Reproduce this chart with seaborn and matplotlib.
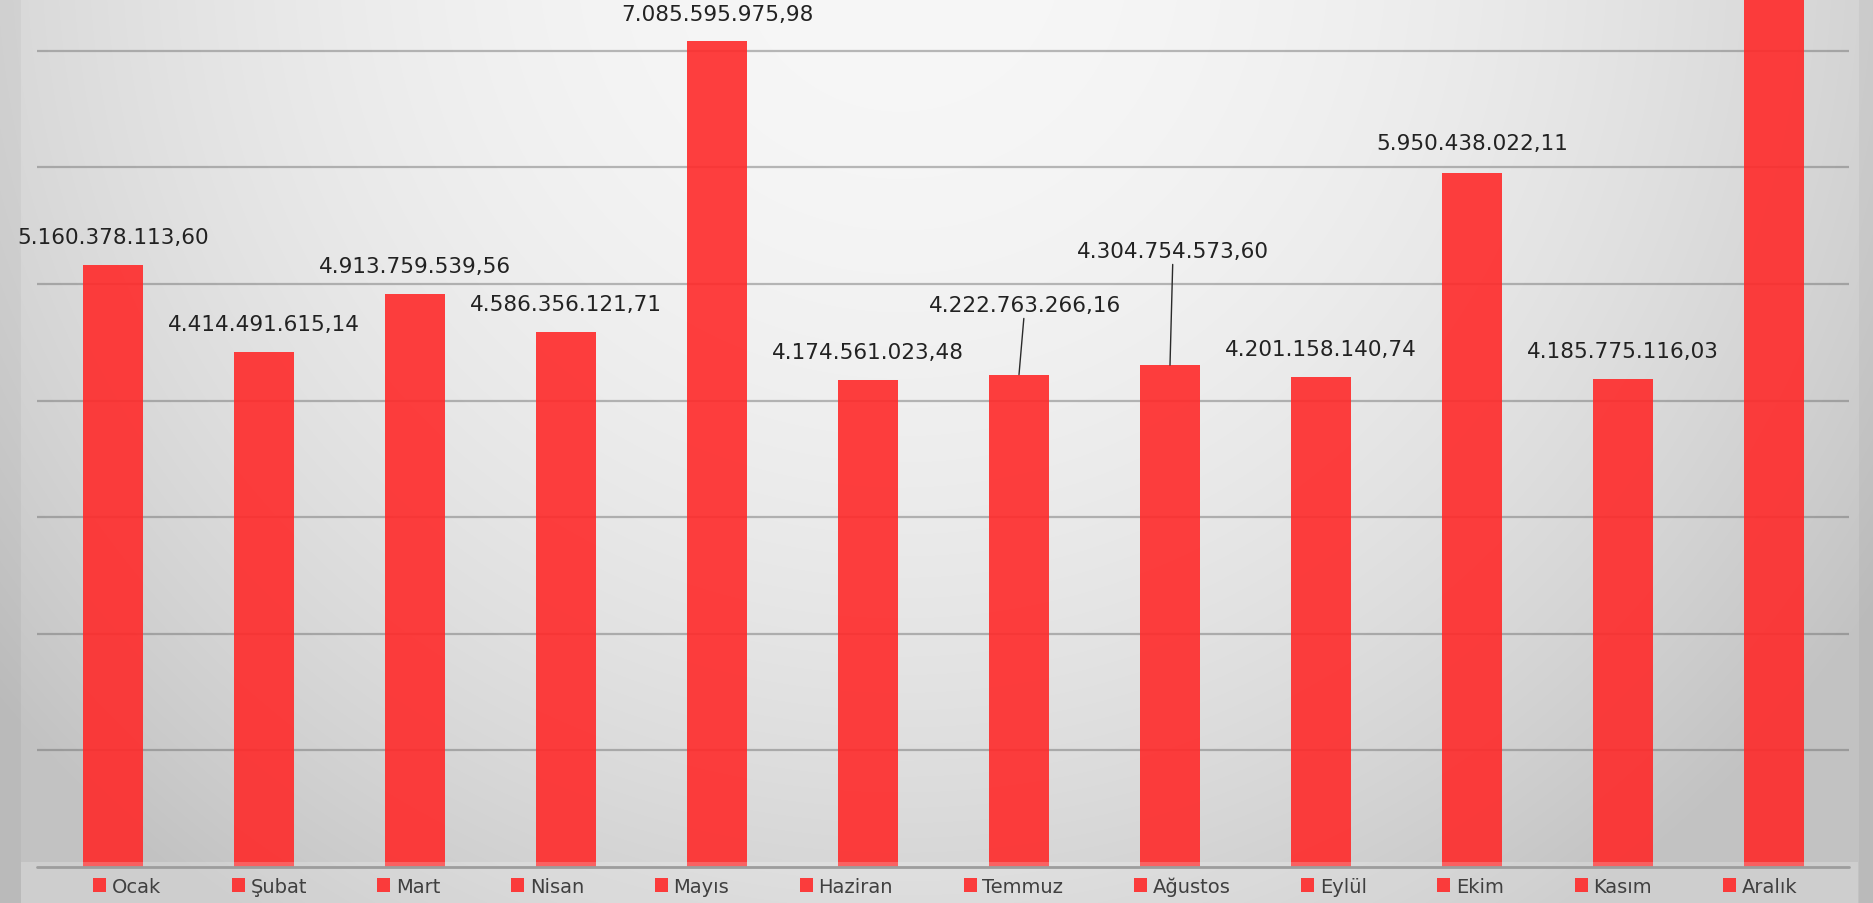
import numpy as np
import pandas as pd
import matplotlib
matplotlib.use("Agg")
import matplotlib.pyplot as plt
import seaborn as sns
from matplotlib.patches import Patch, Rectangle

# ---------------- data ----------------
months = ["Ocak", "Şubat", "Mart", "Nisan", "Mayıs", "Haziran",
          "Temmuz", "Ağustos", "Eylül", "Ekim", "Kasım", "Aralık"]
values = [5160378113.60, 4414491615.14, 4913759539.56, 4586356121.71,
          7085595975.98, 4174561023.48, 4222763266.16, 4304754573.60,
          4201158140.74, 5950438022.11, 4185775116.03, 8100000000.00]
grid_values = [1e9, 2e9, 3e9, 4e9, 5e9, 6e9, 7e9]

# label placement (offset in points from bar top) and leader lines
label_dx = [0, 0, 0, 0, 0, 0, 4.3, 2.2, 0, 0, 0, 0]
label_dy = [20.2, 20.2, 20.2, 20.2, 19.0, 20.2, 50.0, 82.0, 20.2, 21.5, 20.2, 20.2]
leaders = [False, False, False, False, False, False, True, True, False, False, False, False]

W, H, DPI = 1874, 904, 100
bar_color = "#ff2a2a"

sns.set_theme(style="white")
plt.rcParams["font.family"] = ["DejaVu Sans"]

fig = plt.figure(figsize=(W / DPI, H / DPI), dpi=DPI)

# background gradient
bg_ax = fig.add_axes([0, 0, 1, 1], zorder=0)
yy, xx = np.mgrid[0:H, 0:W].astype(float)
d2 = (xx - 900) ** 2 + (yy + 50) ** 2
g = np.clip(247 - 3.8e-5 * d2, 194, 247)
outside = (xx < 21) | (xx > 1858)
g[outside] -= 8
img = np.dstack([g, g, g]) / 255.0
bg_ax.imshow(img, aspect="auto", interpolation="bilinear")
bg_ax.set_axis_off()

# main axes
ax = fig.add_axes([37.5 / W, (H - 868) / H, 1812 / W, 868 / H], zorder=1)
ax.patch.set_alpha(0)

df = pd.DataFrame({"Ay": months, "Deger": values})
sns.barplot(data=df, x="Ay", y="Deger", order=months, color=bar_color,
            saturation=1, width=0.40, alpha=0.9, linewidth=0,
            edgecolor="none", ax=ax, zorder=2)

ax.set_xlim(-0.5, 11.5)
ax.set_ylim(0, 7.444e9)
for gv in grid_values:
    ax.axhline(gv, color="#6a6a6a", alpha=0.45, lw=1.6, zorder=0.5)
ax.axhline(0, color="#858585", lw=2.0, zorder=3, clip_on=False)
ax.axis("off")


def tr_fmt(v):
    s = f"{v:,.2f}"
    return s.replace(",", "X").replace(".", ",").replace("X", ".")


for i, (m, v) in enumerate(zip(months, values)):
    ap = None
    if leaders[i]:
        ap = dict(arrowstyle="-", color="#2a2a2a", lw=1.0, shrinkA=0, shrinkB=0)
    ax.annotate(tr_fmt(v), xy=(i, v), xytext=(label_dx[i], label_dy[i]),
                textcoords="offset points", ha="center", va="center",
                fontsize=15.5, color="#222222", arrowprops=ap,
                annotation_clip=True, zorder=5)

# legend panel
fig.add_artist(Rectangle((21 / W, 0), (1858 - 21) / W, (H - 863) / H,
                         transform=fig.transFigure, facecolor="white",
                         alpha=0.2, edgecolor="none", zorder=2))

handles = [Patch(facecolor=bar_color, alpha=0.9, edgecolor="none") for _ in months]
fs = 14
fs_px = fs * DPI / 72.0
target = 1797 - 93


def make_legend(cs):
    lg = fig.legend(handles, months, loc="center", bbox_to_anchor=(945 / W, 17 / H),
                    ncol=12, frameon=False, fontsize=fs, handlelength=0.67,
                    handleheight=0.67, handletextpad=0.3, columnspacing=cs,
                    borderpad=0, borderaxespad=0)
    for t in lg.get_texts():
        t.set_color("#404040")
    lg.set_zorder(4)
    return lg


cs = 2.0
leg = make_legend(cs)
for _ in range(3):
    fig.canvas.draw()
    w = leg.get_window_extent().width
    cs = cs + (target - w) / 11.0 / fs_px
    leg.remove()
    leg = make_legend(cs)

fig.savefig("out.png", dpi=DPI)
